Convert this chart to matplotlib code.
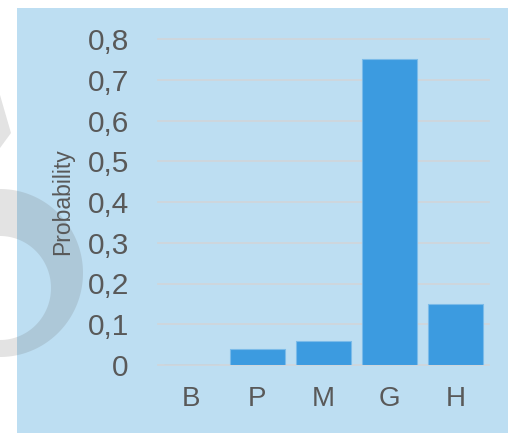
import numpy as np
import matplotlib.pyplot as plt
from matplotlib.patches import Rectangle, Polygon

categories = ["B", "P", "M", "G", "H"]
probabilities = [0.0, 0.04, 0.06, 0.75, 0.15]
yticks = [0, 0.1, 0.2, 0.3, 0.4, 0.5, 0.6, 0.7, 0.8]
ytick_labels = ["0", "0,1", "0,2", "0,3", "0,4", "0,5", "0,6", "0,7", "0,8"]

TEXT = "#595959"
PANEL = "#BDDEF2"
BAR = "#3C9BE0"
GRID = "#D1D5D9"

plt.rcParams["font.family"] = ["Liberation Sans", "DejaVu Sans"]

W, H = 508, 433
fig = plt.figure(figsize=(W / 100, H / 100), dpi=100)
fig.patch.set_facecolor("white")

# light blue chart area behind everything
fig.patches.append(Rectangle((17 / W, 0), 1 - 17 / W, (H - 8) / H,
                             transform=fig.transFigure, facecolor=PANEL,
                             edgecolor="none", zorder=0))

# faint grey "C" shape on the left edge, in pixel coordinates
t = np.linspace(np.pi / 2, -np.pi / 2, 90)
outer = np.column_stack([83 * np.cos(t), H - 273 + 84 * np.sin(t)])
inner = np.column_stack([51 * np.cos(t[::-1]), H - 288 + 52 * np.sin(t[::-1])])
fig.patches.append(Polygon(np.vstack([outer, inner]), closed=True, transform=None,
                           facecolor="#6b6b6b", alpha=0.19, edgecolor="none", zorder=1))
fig.patches.append(Polygon([(0, H - 95), (11, H - 133), (0, H - 148)],
                           closed=True, transform=None,
                           facecolor="#6b6b6b", alpha=0.19, edgecolor="none", zorder=1))

ax = fig.add_axes([158 / W, (H - 365) / H, (489 - 158) / W, (365 - 39) / H])
ax.set_facecolor("none")
ax.set_zorder(2)

x = range(len(categories))
ax.bar(x, probabilities, width=0.83, color=BAR, edgecolor="#7BBBE9", linewidth=0.8, zorder=3)

ax.set_xlim(-0.5, len(categories) - 0.5)
ax.set_ylim(0, 0.8)
ax.set_yticks(yticks)
ax.set_yticklabels(ytick_labels)
ax.set_xticks(list(x))
ax.set_xticklabels(categories)

ax.grid(axis="y", color=GRID, linewidth=1.2, zorder=1)
for line in ax.get_ygridlines():
    line.set_clip_on(False)
ax.set_axisbelow(True)
for s in ax.spines.values():
    s.set_visible(False)

ax.tick_params(axis="y", length=0, pad=21, labelsize=21.5, labelcolor=TEXT)
ax.tick_params(axis="x", length=0, pad=15, labelsize=20, labelcolor=TEXT)

ax.set_ylabel("Probability", fontsize=16.5, color=TEXT)
ax.yaxis.set_label_coords((74 - 158) / 331, 0.5)

fig.savefig("out.png", dpi=100, facecolor=fig.get_facecolor())
